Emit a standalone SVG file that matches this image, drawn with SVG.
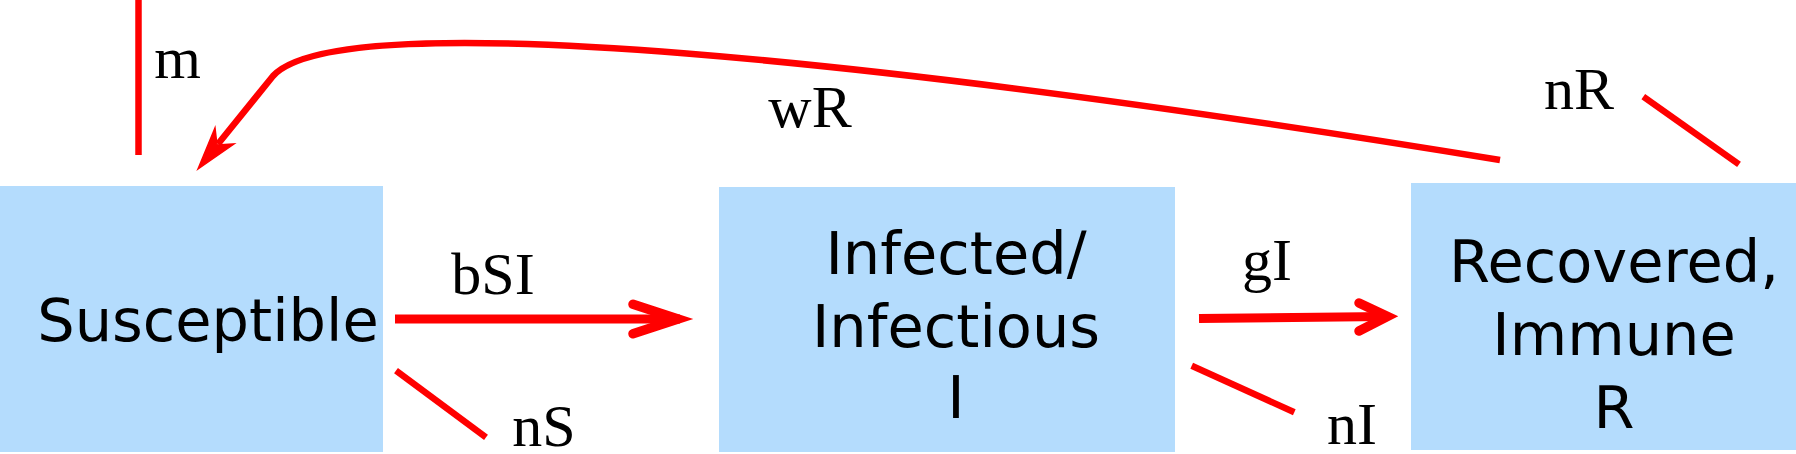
<svg xmlns="http://www.w3.org/2000/svg" width="1796" height="454" viewBox="0 0 1796 454">
<style>
.box{fill:#b4dcfd}
.bt{font-family:"DejaVu Sans",sans-serif;font-size:59px;fill:#000;text-anchor:middle}
.lb{font-family:"Liberation Serif",serif;font-size:60px;fill:#000;text-anchor:middle}
.ln{stroke:#ff0000;fill:none;stroke-width:6.5}
.sh{stroke:#ff0000;fill:none;stroke-width:9}
.hd{stroke:#ff0000;fill:none;stroke-width:9.5;stroke-linecap:round;stroke-linejoin:miter;stroke-miterlimit:5}
</style>
<rect width="1796" height="454" fill="#ffffff"/>
<g id="node-S">
<rect class="box" x="0" y="186" width="383" height="266"/>
<text class="bt" x="208" y="341">Susceptible</text>
</g>
<g id="node-I">
<rect class="box" x="719" y="187" width="456" height="265"/>
<text class="bt" x="956" y="274">Infected/</text>
<text class="bt" x="956" y="347">Infectious</text>
<text class="bt" x="956" y="418">I</text>
</g>
<g id="node-R">
<rect class="box" x="1411" y="183" width="385" height="267"/>
<text class="bt" x="1614" y="282">Recovered,</text>
<text class="bt" x="1614" y="355">Immune</text>
<text class="bt" x="1614" y="428">R</text>
</g>
<g id="connectors">
<line class="ln" x1="138.5" y1="0" x2="138.5" y2="155"/>
<path class="ln" d="M1500,160 C900,62 340,2 273,76 L218,144"/>
<polygon points="198,169 215,128 217,145 234,144" fill="#ff0000" stroke="#ff0000" stroke-width="1.5" stroke-linejoin="miter"/>
<line class="sh" x1="395" y1="319" x2="680" y2="319"/>
<polyline class="hd" points="633,304.3 678,319 633,333.7"/>
<line class="sh" x1="1199" y1="318.5" x2="1386" y2="316.5"/>
<polyline class="hd" points="1359,303 1387.5,316.5 1359,331"/>
<line class="ln" x1="396" y1="370.7" x2="486" y2="437.3"/>
<line class="ln" x1="1191.7" y1="365.7" x2="1294.3" y2="412.3"/>
<line class="ln" x1="1643.3" y1="96.7" x2="1739" y2="164.3"/>
</g>
<g id="labels">
<text class="lb" x="177.5" y="78">m</text>
<text class="lb" x="810" y="127">wR</text>
<text class="lb" x="1579" y="109">nR</text>
<text class="lb" x="493" y="294">bSI</text>
<text class="lb" x="544" y="446">nS</text>
<text class="lb" x="1352" y="444">nI</text>
<text class="lb" x="1267" y="280">gI</text>
</g>
</svg>
